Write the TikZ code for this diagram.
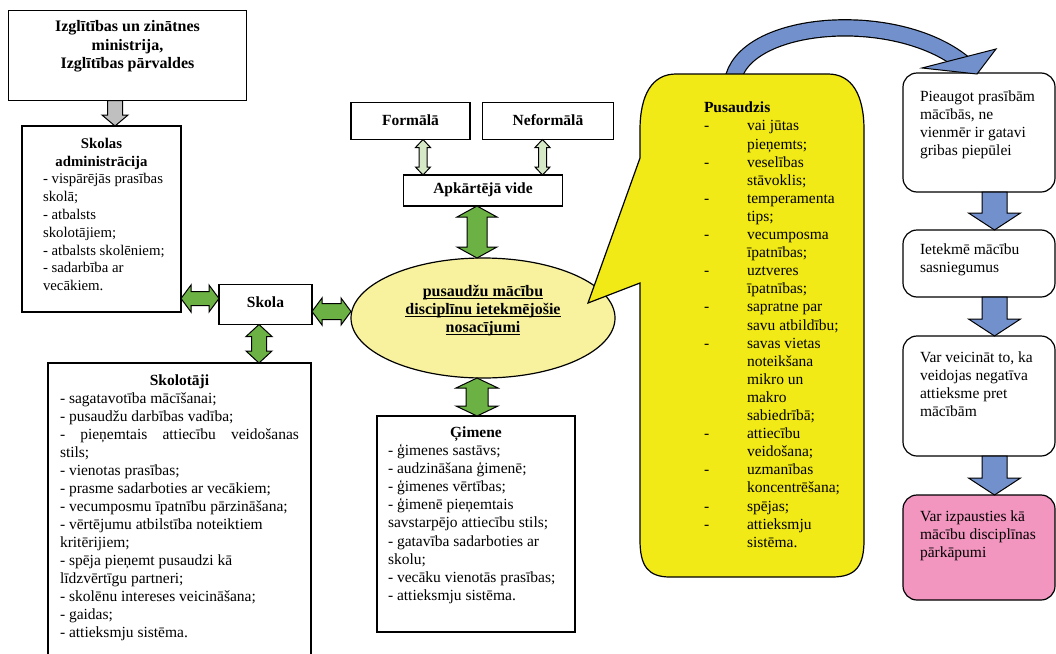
\documentclass[tikz,border=0pt]{standalone}
\usepackage{fontspec}
\setmainfont{Liberation Serif}
\usetikzlibrary{calc,shapes.geometric}
\definecolor{grn}{RGB}{107,177,67}
\definecolor{lgrn}{RGB}{214,233,198}
\definecolor{garr}{RGB}{191,191,191}
\definecolor{barr}{RGB}{114,145,204}
\definecolor{ylw}{RGB}{242,234,22}
\definecolor{lylw}{RGB}{248,242,158}
\definecolor{pnk}{RGB}{242,150,192}
\newcommand\myUl[1]{\leavevmode\setbox0=\hbox{#1}\rlap{\rule[-2.6pt]{\wd0}{0.9pt}}\box0}
% single arrow pointing down: #1 top, #2 tip, #3 half shaft, #4 half head, #5 head length, #6 style
\newcommand\vsArr[6]{\path[#6] ($#1+(-#3,0)$) -- ($#2+(-#3,-#5)$) -- ($#2+(-#4,-#5)$) -- #2 -- ($#2+(#4,-#5)$) -- ($#2+(#3,-#5)$) -- ($#1+(#3,0)$) -- cycle;}
% double vertical arrow: #1 top tip, #2 bottom tip
\newcommand\vdArr[6]{\path[#6] #1 -- ($#1+(#4,#5)$) -- ($#1+(#3,#5)$) -- ($#2+(#3,-#5)$) -- ($#2+(#4,-#5)$) -- #2 -- ($#2+(-#4,-#5)$) -- ($#2+(-#3,-#5)$) -- ($#1+(-#3,#5)$) -- ($#1+(-#4,#5)$) -- cycle;}
% double horizontal arrow: #1 left tip, #2 right tip
\newcommand\hdArr[6]{\path[#6] #1 -- ($#1+(#5,-#4)$) -- ($#1+(#5,-#3)$) -- ($#2+(-#5,-#3)$) -- ($#2+(-#5,-#4)$) -- #2 -- ($#2+(-#5,#4)$) -- ($#2+(-#5,#3)$) -- ($#1+(#5,#3)$) -- ($#1+(#5,#4)$) -- cycle;}
\begin{document}
\begin{tikzpicture}[x=1pt,y=-1pt,
  every node/.style={inner sep=0pt,outer sep=0pt,font=\fontsize{15.5}{18.1}\selectfont},
  box/.style={draw,line width=1.2pt,fill=white,rectangle},
  rbox/.style={box,rounded corners=14pt},
  tl/.style={anchor=north west,align=left},
  tb/.style={anchor=center,align=center,font=\fontsize{15.5}{18.1}\selectfont\bfseries},
  garrow/.style={draw,line width=1pt,line join=miter,fill=grn},
  larrow/.style={draw,line width=1pt,line join=miter,fill=lgrn},
  grarrow/.style={draw,line width=1pt,line join=miter,fill=garr},
  barrow/.style={draw,line width=1pt,line join=miter,fill=barr}]
\useasboundingbox (0,0) rectangle (1056,653);

% ---------- boxes ----------
\node[box,minimum width=238,minimum height=90] (min) at (127.5,55.5) {};
\node[tb,font=\fontsize{16}{18.3}\selectfont\bfseries] (mint) at (127.5,46.5) {\strut Izglītības un zinātnes\\ministrija,\\Izglītības pārvaldes\strut};

\node[box,minimum width=159,minimum height=186] (adm) at (101.5,219) {};
\node[tl,font=\fontsize{14.8}{17.8}\selectfont] (admt) at (43,135.8) {\strut\makebox[117pt][c]{\textbf{Skolas}}\\
\makebox[117pt][c]{\textbf{administrācija}}\\
- vispārējās prasības\\
skolā;\\
- atbalsts\\
skolotājiem;\\
- atbalsts skolēniem;\\
- sadarbība ar\\
vecākiem.};

\node[box,minimum width=93,minimum height=40] (skola) at (265.5,304.5) {};
\node[tb] (skolat) at (265.5,302) {Skola};

\node[box,minimum width=263,minimum height=297] (skt) at (179.5,511.5) {};
\node[tl,font=\fontsize{15.5}{18}\selectfont] (sktt) at (60,372.8) {\strut\makebox[239pt][c]{\textbf{Skolotāji}}\\
- sagatavotība mācīšanai;\\
- pusaudžu darbības vadība;\\
\hbox to 239pt{-\hfill pieņemtais\hfill attiecību\hfill veidošanas}\\
stils;\\
- vienotas prasības;\\
- prasme sadarboties ar vecākiem;\\
- vecumposmu īpatnību pārzināšana;\\
- vērtējumu atbilstība noteiktiem\\
kritērijiem;\\
- spēja pieņemt pusaudzi kā\\
līdzvērtīgu partneri;\\
- skolēnu intereses veicināšana;\\
- gaidas;\\
- attieksmju sistēma.};

\node[box,minimum width=119,minimum height=37] (form) at (410.5,121) {};
\node[tb] (formt) at (410.5,120) {Formālā};
\node[box,minimum width=131,minimum height=37] (nef) at (548,121) {};
\node[tb] (neft) at (548,120) {Neformālā};
\node[box,minimum width=159,minimum height=31] (apk) at (483,190.5) {};
\node[tb] (apkt) at (483,190) {Apkārtējā vide};

\node[ellipse,draw,line width=1.2pt,fill=lylw,minimum width=264,minimum height=120] (ell) at (483,318) {};

\node[box,minimum width=198,minimum height=216] (gim) at (476,524) {};
\node[tl] (gimt) at (388,424.8) {\strut\makebox[176pt][c]{\textbf{Ģimene}}\\
- ģimenes sastāvs;\\
- audzināšana ģimenē;\\
- ģimenes vērtības;\\
- ģimenē pieņemtais\\
savstarpējo attiecību stils;\\
- gatavība sadarboties ar\\
skolu;\\
- vecāku vienotās prasības;\\
- attieksmju sistēma.};

% right column
\node[rbox,minimum width=152,minimum height=119] (r1) at (979,132.5) {};
\node[tl] (r1t) at (920,88.5) {\strut Pieaugot prasībām\\mācībās, ne\\vienmēr ir gatavi\\gribas piepūlei};
\node[rbox,minimum width=152,minimum height=67] (r2) at (979,263.5) {};
\node[tl] (r2t) at (920,242) {\strut Ietekmē mācību\\sasniegumus};
\node[rbox,minimum width=152,minimum height=120] (r3) at (979,396) {};
\node[tl] (r3t) at (920,350) {\strut Var veicināt to, ka\\veidojas negatīva\\attieksme pret\\mācībām};
\node[rbox,fill=pnk,minimum width=152,minimum height=105] (r4) at (979,547.5) {};
\node[tl] (r4t) at (920,509) {\strut Var izpausties kā\\mācību disciplīnas\\pārkāpumi};

% ---------- arrows ----------
\coordinate (g1) at ($(min.south)+(-12.5,0)$);
\coordinate (g2) at (g1 |- adm.north);
\vsArr{(g1)}{(g2)}{7.5}{13}{11}{grarrow}

\coordinate (a2) at ($(skola.west)+(0,-6)$);
\coordinate (a1) at (adm.east |- a2);
\hdArr{(a1)}{(a2)}{7}{13.5}{10}{garrow}

\coordinate (s1) at ($(skola.east)+(0,7)$);
\coordinate (s2) at (ell.west |- s1);
\hdArr{(s1)}{(s2)}{8}{13.5}{10}{garrow}

\coordinate (k1) at ($(skola.south)+(-6.5,0)$);
\coordinate (k2) at (k1 |- skt.north);
\vdArr{(k1)}{(k2)}{7.5}{13}{12}{garrow}

\coordinate (f1) at ($(form.south)+(12.5,0)$);
\coordinate (f2) at (f1 |- apk.north);
\vdArr{(f1)}{(f2)}{4}{7.5}{8}{larrow}

\coordinate (n1) at ($(nef.south)+(-5.5,0)$);
\coordinate (n2) at (n1 |- apk.north);
\vdArr{(n1)}{(n2)}{4}{7.5}{8}{larrow}

\coordinate (p1) at ($(apk.south)+(-6,0)$);
\coordinate (p2) at (p1 |- ell.north);
\vdArr{(p1)}{(p2)}{10}{20}{11}{garrow}

\coordinate (e1) at ($(ell.south)+(-6,0)$);
\coordinate (e2) at (e1 |- gim.north);
\vdArr{(e1)}{(e2)}{11}{21}{10}{garrow}

\coordinate (b1) at ($(r1.south)+(15.5,0)$);
\coordinate (b2) at (b1 |- r2.north);
\vsArr{(b1)}{(b2)}{12.5}{26}{17}{barrow}
\coordinate (b3) at ($(r2.south)+(15.5,0)$);
\coordinate (b4) at (b3 |- r3.north);
\vsArr{(b3)}{(b4)}{12.5}{26}{17}{barrow}
\coordinate (b5) at ($(r3.south)+(15.5,0)$);
\coordinate (b6) at (b5 |- r4.north);
\vsArr{(b5)}{(b6)}{12.5}{26}{17}{barrow}

% curved arrow body (from the Pusaudzis callout to the first right box)
\coordinate (cstart) at (732.5,82);
\coordinate (cend) at (963,63);
\draw[line width=17.4pt,black] (cstart) .. controls (742,20) and (895,8) .. (cend);
\draw[line width=15pt,barr] (cstart) .. controls (742,20) and (895,8) .. (cend);

% ---------- callout ----------
\path[draw,line width=1.2pt,fill=ylw,line join=miter]
  (640,158) -- (640,130) .. controls (640,95) and (652,74) .. (676,74)
  -- (828,74) .. controls (852,74) and (864,95) .. (864,130)
  -- (864,540) .. controls (864,566) and (856,577) .. (832,577)
  -- (670,577) .. controls (648,577) and (640,566) .. (640,540)
  -- (640,283) -- (588,303) -- cycle;
\node[tl] (pust) at (704,100.2) {\strut\textbf{Pusaudzis}\\
\makebox[43pt][l]{-}vai jūtas\\
\hspace*{43pt}pieņemts;\\
\makebox[43pt][l]{-}veselības\\
\hspace*{43pt}stāvoklis;\\
\makebox[43pt][l]{-}temperamenta\\
\hspace*{43pt}tips;\\
\makebox[43pt][l]{-}vecumposma\\
\hspace*{43pt}īpatnības;\\
\makebox[43pt][l]{-}uztveres\\
\hspace*{43pt}īpatnības;\\
\makebox[43pt][l]{-}sapratne par\\
\hspace*{43pt}savu atbildību;\\
\makebox[43pt][l]{-}savas vietas\\
\hspace*{43pt}noteikšana\\
\hspace*{43pt}mikro un\\
\hspace*{43pt}makro\\
\hspace*{43pt}sabiedrībā;\\
\makebox[43pt][l]{-}attiecību\\
\hspace*{43pt}veidošana;\\
\makebox[43pt][l]{-}uzmanības\\
\hspace*{43pt}koncentrēšana;\\
\makebox[43pt][l]{-}spējas;\\
\makebox[43pt][l]{-}attieksmju\\
\hspace*{43pt}sistēma.};

% curved arrow head
\path[draw,line width=1pt,fill=barr,line join=miter] (922,68) -- (996,49) -- (977,74) -- cycle;

% ellipse text
\node[tb,font=\fontsize{16}{18.1}\selectfont\bfseries] (ellt) at (483,310.5) {\strut\myUl{pusaudžu mācību}\\\myUl{disciplīnu ietekmējošie}\\\myUl{nosacījumi}\strut};
\end{tikzpicture}
\end{document}
